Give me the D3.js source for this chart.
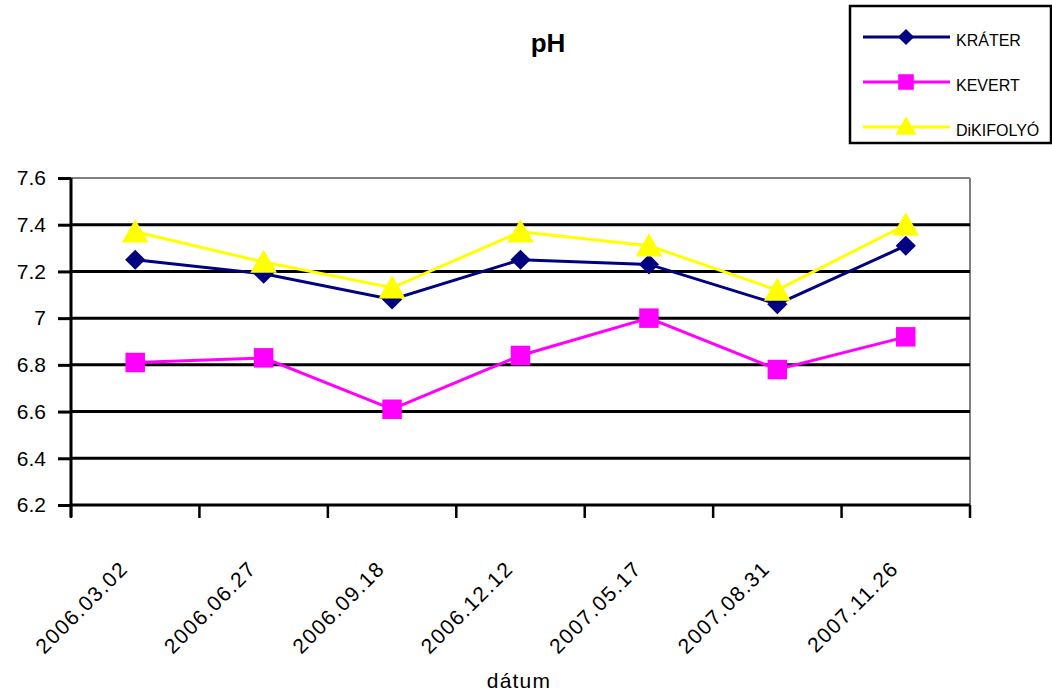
<!DOCTYPE html>
<html>
<head>
<meta charset="utf-8">
<script src="https://cdn.jsdelivr.net/npm/d3@7"></script>
<style>
  html, body { margin: 0; padding: 0; background: #fff; }
  svg { display: block; font-family: "Liberation Sans", Arial, sans-serif; }
</style>
</head>
<body>
<svg id="chart" width="1052" height="695"></svg>
<script>
// pH measurements per sampling date
const dates = ["2006.03.02", "2006.06.27", "2006.09.18", "2006.12.12", "2007.05.17", "2007.08.31", "2007.11.26"];
const krater = [7.25, 7.19, 7.08, 7.25, 7.23, 7.06, 7.31];
const kevert = [6.81, 6.83, 6.61, 6.84, 7.00, 6.78, 6.92];
const dikifolyo = [7.37, 7.24, 7.13, 7.37, 7.31, 7.12, 7.40];
const yTicks = [6.2, 6.4, 6.6, 6.8, 7, 7.2, 7.4, 7.6];

const seriesList = [
  { name: "KRÁTER", values: krater, color: "#000080", symbol: "diamond" },
  { name: "KEVERT", values: kevert, color: "#FF00FF", symbol: "square" },
  { name: "DiKIFOLYÓ", values: dikifolyo, color: "#FFFF00", symbol: "triangle" }
];

const svg = d3.select("#chart");
const plot = { left: 71, right: 970, top: 178, bottom: 505 };

const x = d3.scaleBand().domain(dates).range([plot.left, plot.right]).padding(0);
const y = d3.scaleLinear().domain([6.2, 7.6]).range([plot.bottom, plot.top]);

// plot frame (top and right in gray)
svg.append("line").attr("x1", plot.left).attr("x2", plot.right).attr("y1", plot.top).attr("y2", plot.top)
  .attr("stroke", "#808080").attr("stroke-width", 2);
svg.append("line").attr("x1", plot.right).attr("x2", plot.right).attr("y1", plot.top).attr("y2", plot.bottom)
  .attr("stroke", "#808080").attr("stroke-width", 2);

// horizontal gridlines
svg.append("g").selectAll("line").data(yTicks.filter(t => t > 6.2 && t < 7.6)).join("line")
  .attr("x1", plot.left).attr("x2", plot.right)
  .attr("y1", d => y(d)).attr("y2", d => y(d))
  .attr("stroke", "#000").attr("stroke-width", 3);

// y axis
const yAxis = d3.axisLeft(y).tickValues(yTicks).tickSize(13).tickPadding(12).tickFormat(d3.format("~g"));
const gy = svg.append("g").attr("transform", `translate(${plot.left},0)`).call(yAxis);
gy.select(".domain").attr("stroke", "#000").attr("stroke-width", 3)
  .attr("d", `M0,${plot.top}V${plot.bottom + 12}`);
gy.selectAll(".tick line").attr("stroke", "#000").attr("stroke-width", 3);
gy.selectAll(".tick text").attr("font-size", 21).attr("fill", "#000")
  .attr("font-family", "Liberation Sans, Arial, sans-serif");

// x axis: ticks at category boundaries
const boundaries = dates.map(d => x(d)).concat([plot.right]);
const gx = svg.append("g");
gx.append("line").attr("x1", plot.left - 1).attr("x2", plot.right).attr("y1", plot.bottom).attr("y2", plot.bottom)
  .attr("stroke", "#000").attr("stroke-width", 3);
gx.selectAll("line.tk").data(boundaries).join("line").attr("class", "tk")
  .attr("x1", d => d).attr("x2", d => d).attr("y1", plot.bottom).attr("y2", plot.bottom + 13)
  .attr("stroke", "#000").attr("stroke-width", 2.5);
gx.selectAll("text").data(dates).join("text")
  .attr("transform", d => `translate(${x(d) + x.bandwidth() / 2 - 6},${plot.bottom + 65}) rotate(-45)`)
  .attr("text-anchor", "end")
  .attr("font-size", 21)
  .attr("letter-spacing", 1.5)
  .attr("fill", "#000")
  .text(d => d);

// axis title and chart title
svg.append("text").attr("x", 519).attr("y", 688).attr("text-anchor", "middle")
  .attr("font-size", 21).attr("letter-spacing", 1.2).attr("fill", "#000").text("dátum");
svg.append("text").attr("x", 548).attr("y", 52).attr("text-anchor", "middle")
  .attr("font-size", 26).attr("font-weight", "bold").attr("fill", "#000").text("pH");

// marker shapes
const symbolPath = {
  diamond: d3.symbol().type(d3.symbolDiamond2).size(260)(),
  square: d3.symbol().type(d3.symbolSquare).size(380)(),
  triangle: d3.symbol().type(d3.symbolTriangle).size(310)()
};
// triangles sit slightly below their data point
const markerShift = { diamond: 0, square: 0, triangle: 3 };

const line = d3.line().x((d, i) => x(dates[i]) + x.bandwidth() / 2).y(d => y(d));

seriesList.forEach(s => {
  const g = svg.append("g");
  g.append("path").datum(s.values).attr("d", line)
    .attr("fill", "none").attr("stroke", s.color).attr("stroke-width", 3);
  g.selectAll("path.m").data(s.values).join("path").attr("class", "m")
    .attr("d", symbolPath[s.symbol])
    .attr("transform", (d, i) => `translate(${x(dates[i]) + x.bandwidth() / 2},${y(d) + markerShift[s.symbol]})`)
    .attr("fill", s.color);
});

// legend
const legend = svg.append("g");
legend.append("rect").attr("x", 850).attr("y", 6).attr("width", 201).attr("height", 137)
  .attr("fill", "#fff").attr("stroke", "#000").attr("stroke-width", 2.5);
seriesList.forEach((s, i) => {
  const ly = 37 + i * 45;
  legend.append("line").attr("x1", 863).attr("x2", 950).attr("y1", ly).attr("y2", ly)
    .attr("stroke", s.color).attr("stroke-width", 3);
  legend.append("path").attr("d", symbolPath[s.symbol])
    .attr("transform", `translate(906,${ly + markerShift[s.symbol] * 0.5}) scale(0.8)`)
    .attr("fill", s.color);
  legend.append("text").attr("x", 956).attr("y", ly + 9).attr("font-size", 16)
    .attr("fill", "#000").text(s.name);
});
</script>
</body>
</html>
